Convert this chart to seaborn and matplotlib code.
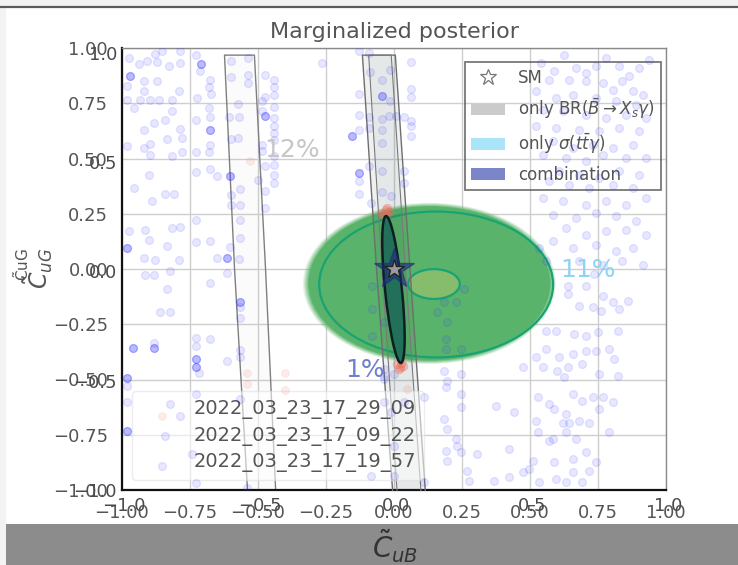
import numpy as np
import matplotlib
matplotlib.use("Agg")
import matplotlib.pyplot as plt
from matplotlib.patches import Ellipse, Patch, Rectangle
from matplotlib.lines import Line2D
from matplotlib.ticker import FuncFormatter, FixedLocator
import seaborn as sns

sns.set_style("white")
plt.rcParams['font.family'] = ['DejaVu Sans']
plt.rcParams['mathtext.fontset'] = 'dejavusans'

# ---- scan samples (C_uB, C_uG) ----
upper_left_x = [-0.975, -0.939, -0.908, -0.877, -0.853, -0.786, -0.871, -0.828, -0.786, -0.92, -0.871, -0.982,
                -0.92, -0.792, -0.982, -0.933, -0.896, -0.865, -0.816, -0.957, -0.816, -0.841, -0.884, -0.786,
                -0.92, -0.982, -0.92, -0.896, -0.835, -0.779, -0.816, -0.896, -0.779, -0.902, -0.957, -0.841,
                -0.81, -0.89, -0.975, -0.914, -0.816, -0.786, -0.902, -0.835, -0.92, -0.877, -0.792]
upper_left_y = [0.955, 0.928, 0.94, 0.973, 0.988, 0.988, 0.937, 0.917, 0.932, 0.852, 0.849, 0.827,
                0.807, 0.804, 0.763, 0.766, 0.763, 0.763, 0.763, 0.728, 0.716, 0.676, 0.661, 0.633,
                0.63, 0.558, 0.548, 0.566, 0.59, 0.593, 0.51, 0.517, 0.529, 0.424, 0.367, 0.341,
                0.341, 0.306, 0.17, 0.178, 0.186, 0.19, 0.13, 0.103, 0.05, 0.039, 0.039]

columns_x = [-0.728, -0.712, -0.675, -0.679, -0.673, -0.724, -0.679, -0.728, -0.675, -0.675, -0.728, -0.679,
             -0.675, -0.728, -0.651, -0.728, -0.728, -0.675, -0.651,
             -0.598, -0.537, -0.598, -0.537, -0.574, -0.537, -0.608, -0.571, -0.598, -0.574, -0.565, -0.598,
             -0.598, -0.565, -0.565, -0.565, -0.571, -0.602,
             -0.473, -0.442, -0.442, -0.442, -0.473, -0.485, -0.442, -0.442, -0.485, -0.442, -0.442, -0.442,
             -0.485, -0.485, -0.442, -0.473, -0.442, -0.442, -0.5, -0.442, -0.473, -0.473]
columns_y = [0.97, 0.894, 0.854, 0.822, 0.792, 0.774, 0.728, 0.676, 0.686, 0.563, 0.529, 0.529,
             0.454, 0.437, 0.422, 0.22, 0.121, 0.128, 0.05,
             0.943, 0.955, 0.867, 0.879, 0.747, 0.842, 0.686, 0.686, 0.588, 0.591, 0.363, 0.336,
             0.291, 0.291, 0.22, 0.14, 0.045, 0.098,
             0.879, 0.854, 0.822, 0.789, 0.777, 0.759, 0.732, 0.683, 0.716, 0.649, 0.615, 0.585,
             0.563, 0.532, 0.51, 0.465, 0.472, 0.427, 0.404, 0.389, 0.351, 0.276]

upper_mid_x = [-0.264, -0.092, -0.129, -0.09, -0.043, -0.015, 0.061, -0.129, -0.015, 0.061, 0.061, -0.129,
               -0.092, -0.043, -0.018, 0.006, 0.037, 0.061, 0.061, -0.092, -0.129, -0.043, 0.061, -0.043,
               -0.092, -0.129, -0.043, 0.037, -0.129, -0.043, -0.012, 0.037, -0.086]
upper_mid_y = [0.932, 0.977, 0.985, 0.891, 0.857, 0.902, 0.935, 0.792, 0.762, 0.814, 0.778, 0.698,
               0.686, 0.679, 0.691, 0.691, 0.686, 0.668, 0.646, 0.638, 0.63, 0.63, 0.6, 0.57,
               0.465, 0.397, 0.442, 0.442, 0.339, 0.347, 0.332, 0.389, 0.299]

upper_right_x = [0.540, 0.589, 0.626, 0.669, 0.706, 0.742, 0.779, 0.828, 0.865, 0.902, 0.938,
                 0.840, 0.804, 0.877, 0.914, 0.767, 0.706, 0.644, 0.571,
                 0.522, 0.595, 0.657, 0.742, 0.816, 0.889, 0.546, 0.620, 0.706, 0.779, 0.853, 0.926,
                 0.522, 0.595, 0.681, 0.755, 0.828, 0.902, 0.583, 0.657, 0.730, 0.804, 0.877,
                 0.546, 0.632, 0.706, 0.767, 0.853, 0.926, 0.608, 0.681, 0.755, 0.828, 0.902,
                 0.571, 0.644, 0.718, 0.804, 0.877, 0.546, 0.620, 0.706, 0.779, 0.853, 0.926,
                 0.583, 0.669, 0.742, 0.816, 0.889, 0.632, 0.706, 0.779, 0.853, 0.926,
                 0.583, 0.657, 0.742, 0.816, 0.877, 0.681, 0.767, 0.840, 0.914, 0.534, 0.559]
upper_right_y = [0.932, 0.894, 0.970, 0.910, 0.887, 0.917, 0.955, 0.917, 0.872, 0.910, 0.947,
                 0.849, 0.811, 0.804, 0.789, 0.842, 0.849, 0.857, 0.857,
                 0.804, 0.774, 0.789, 0.774, 0.759, 0.744, 0.721, 0.713, 0.698, 0.683, 0.698, 0.683,
                 0.646, 0.638, 0.630, 0.623, 0.638, 0.623, 0.578, 0.548, 0.563, 0.548, 0.563,
                 0.517, 0.502, 0.487, 0.517, 0.502, 0.502, 0.442, 0.427, 0.412, 0.442, 0.427,
                 0.397, 0.382, 0.367, 0.382, 0.367, 0.321, 0.306, 0.291, 0.306, 0.291, 0.321,
                 0.246, 0.231, 0.253, 0.238, 0.216, 0.186, 0.155, 0.170, 0.178, 0.155,
                 0.125, 0.095, 0.110, 0.080, 0.095, 0.035, 0.020, 0.035, 0.020, 0.095, 0.035]

lower_left_x = [-0.914, -0.884, -0.822, -0.614, -0.675, -0.835, -0.859, -0.822, -0.565, -0.565, -0.884, -0.675,
                -0.728, -0.728, -0.716, -0.614, -0.565, -0.565, -0.982, -0.982, -0.728, -0.565, -0.822, -0.786,
                -0.841, -0.853, -0.743, -0.728, -0.54]
lower_left_y = [-0.027, -0.027, -0.008, -0.02, -0.065, -0.09, -0.193, -0.193, -0.173, -0.223, -0.335, -0.317,
                -0.314, -0.347, -0.471, -0.415, -0.367, -0.4, -0.528, -0.6, -0.566, -0.588, -0.611, -0.664,
                -0.754, -0.89, -0.837, -0.97, -0.99]

lower_mid_x = [-0.037, -0.037, 0.0, -0.037, 0.184, 0.196, 0.245, 0.245, 0.19, 0.245, 0.184, 0.196, 0.227, 0.233,
               0.19, 0.245, 0.196, 0.27, 0.276, 0.306, 0.11, 0.037, -0.037, -0.012, 0.0, 0.0, 0.11, -0.086,
               -0.08, -0.08, -0.037, -0.08, 0.184, 0.227, 0.159, 0.196, 0.19, 0.19, 0.245, 0.257]
lower_mid_y = [-0.452, -0.483, -0.475, -0.498, -0.46, -0.505, -0.475, -0.566, -0.535, -0.626, -0.679, -0.724,
               -0.769, -0.799, -0.822, -0.83, -0.867, -0.913, -0.958, -0.837, -0.581, -0.603, -0.603, -0.649,
               -0.799, -0.935, -0.965, -0.935, -0.075, -0.181, -0.241, -0.302, -0.151, -0.151, -0.196, -0.241,
               -0.317, -0.362, -0.362, -0.09]

lower_right_x = [0.736, 0.638, 0.706, 0.767, 0.804, 0.859, 0.681, 0.730, 0.761, 0.828, 0.638,
                 0.559, 0.595, 0.663, 0.706, 0.749, 0.822, 0.522, 0.559, 0.608, 0.657, 0.706, 0.742, 0.791, 0.810,
                 0.473, 0.546, 0.601, 0.638, 0.693, 0.755, 0.822, 0.626,
                 0.375, 0.442, 0.528, 0.571, 0.589, 0.632, 0.657, 0.693, 0.730, 0.767, 0.804,
                 0.522, 0.620, 0.644, 0.681, 0.718, 0.632, 0.528, 0.583, 0.669, 0.755,
                 0.424, 0.571, 0.510, 0.589, 0.657, 0.706, 0.742, 0.473, 0.595, 0.657, 0.718,
                 0.424, 0.369, 0.534, 0.632, 0.693, 0.497, 0.791]
lower_right_y = [-0.023, -0.075, -0.075, -0.121, -0.151, -0.143, -0.166, -0.173, -0.189, -0.181, -0.113,
                 -0.279, -0.279, -0.294, -0.302, -0.287, -0.279, -0.400, -0.362, -0.400, -0.385, -0.370, -0.370,
                 -0.362, -0.407,
                 -0.445, -0.445, -0.460, -0.445, -0.430, -0.475, -0.483, -0.490,
                 -0.618, -0.646, -0.581, -0.611, -0.633, -0.656, -0.566, -0.596, -0.581, -0.581, -0.603,
                 -0.686, -0.698, -0.698, -0.686, -0.698, -0.739, -0.739, -0.769, -0.769, -0.633,
                 -0.814, -0.777, -0.867, -0.872, -0.860, -0.830, -0.875, -0.920, -0.950, -0.920, -0.913,
                 -0.943, -0.958, -0.965, -0.965, -0.965, -0.905, -0.739]

# repeated samples (overlapping, so they look darker)
dense_x = [-0.982, -0.71, -0.675, -0.604, -0.614, -0.473, -0.043, -0.156, -0.129, -0.565, -0.96, -0.884,
           -0.728, -0.728, -0.982, -0.982, -0.969]
dense_y = [0.095, 0.928, 0.63, 0.419, 0.05, 0.691, 0.784, 0.6, 0.434, -0.151, -0.357, -0.357,
           -0.407, -0.442, -0.495, -0.732, 0.872]

# rejected samples near the tips of the combined region
tip_x = [-0.045, -0.03, -0.02, -0.035, -0.025, 0.012, 0.022, 0.032, 0.017, 0.027]
tip_y = [0.255, 0.268, 0.26, 0.245, 0.275, -0.43, -0.445, -0.438, -0.452, -0.425]
reject_x = [-0.54, -0.54, -0.4, -0.4, -0.853, 0.049, -0.53]
reject_y = [-0.471, -0.52, -0.471, -0.546, -0.664, -0.543, 0.49]

# ---- BR(B -> Xs gamma) allowed bands: edges along C_uG ----
band_y = [-1.05, 0.0, 0.97]
br1_left = [-0.538, -0.588, -0.625]
br1_right = [-0.435, -0.474, -0.515]
br2_left = [-0.004, -0.066, -0.118]
br2_right = [0.116, 0.057, 0.003]
br2_inner_left = [0.012, -0.046, -0.095]
br2_inner_right = [0.100, 0.040, -0.012]

# ---- sigma(t tbar gamma) region and combination (centre, width, height, angle) ----
ttg_cloud = (0.13, -0.065, 0.93, 0.73, 0.0)
ttg_outer = (0.155, -0.07, 0.86, 0.66, 0.0)
ttg_inner = (0.147, -0.068, 0.19, 0.135, 0.0)
combined = (-0.002, -0.093, 0.062, 0.667, 4.7)
sm_point = (0.0, 0.0)

level_labels = ["12%", "11%", "1%"]
level_pos = [(-0.375, 0.538), (0.713, -0.005), (-0.107, -0.457)]
level_colors = ["#c6c6c6", "#8fd3f4", "#6f7fcf"]

run_labels = ["2022_03_23_17_29_09", "2022_03_23_17_09_22", "2022_03_23_17_19_57"]

major_ticks = [-1.0, -0.75, -0.5, -0.25, 0.0, 0.25, 0.5, 0.75, 1.0]
coarse_ticks = [-1.0, -0.5, 0.0, 0.5, 1.0]

W, H = 738, 565
fig = plt.figure(figsize=(W / 100, H / 100), dpi=100)
fig.patch.set_facecolor("white")

# frame decorations of the page
fig.patches.append(Rectangle((0, 558 / H), 1, 7 / H, transform=fig.transFigure,
                             facecolor="#f1f1f1", edgecolor="none", zorder=0))
fig.patches.append(Rectangle((0, 0), 6 / W, 558 / H, transform=fig.transFigure,
                             facecolor="#f3f3f3", edgecolor="none", zorder=0))
fig.patches.append(Rectangle((6 / W, 0), 1, 41 / H, transform=fig.transFigure,
                             facecolor="#8c8c8c", edgecolor="none", zorder=0))
fig.lines.append(Line2D([0, 1], [558.5 / H, 558.5 / H], transform=fig.transFigure,
                        color="#5a5a5a", lw=1.6))

ax = fig.add_axes([122 / W, 75 / H, 544 / W, 442 / H])
ax.set_xlim(-1, 1)
ax.set_ylim(-1, 1)
ax.grid(True, color="#cfcfcf", lw=1.0, zorder=0)
ax.set_axisbelow(True)

minus = lambda fmt: FuncFormatter(lambda v, p: (fmt % v).replace("-", "\u2212"))
ax.xaxis.set_major_locator(FixedLocator(major_ticks))
ax.yaxis.set_major_locator(FixedLocator(major_ticks))
ax.xaxis.set_major_formatter(minus("%.2f"))
ax.yaxis.set_major_formatter(minus("%.2f"))
ax.tick_params(axis="both", labelsize=13, labelcolor="#555555", color="#444444",
               length=5, width=1, pad=5, direction="out")
for side in ("top", "right"):
    ax.spines[side].set_color("#8a8a8a")
    ax.spines[side].set_linewidth(1.0)
for side in ("left", "bottom"):
    ax.spines[side].set_color("#111111")
    ax.spines[side].set_linewidth(1.6)

# BR band away from the SM point
ax.fill_betweenx(band_y, br1_left, br1_right, facecolor=(0.35, 0.35, 0.35, 0.025),
                 edgecolor="#7f7f7f", lw=1.0, zorder=2)

# sigma(ttgamma) posterior cloud with a short soft edge
cx, cy, cw, ch, ca = ttg_cloud
for k, a in zip([1.0, 0.99, 0.98, 0.97, 0.96], [0.15, 0.22, 0.3, 0.4, 0.5]):
    ax.add_patch(Ellipse((cx, cy), cw * k, ch * k, angle=ca, facecolor="#5cb46b",
                         edgecolor="none", alpha=a, zorder=3))
ax.add_patch(Ellipse((cx, cy), cw * 0.955, ch * 0.955, angle=ca, facecolor="#5ab36a",
                     edgecolor="none", zorder=3))
ox, oy, ow, oh, oa = ttg_outer
ax.add_patch(Ellipse((ox, oy), ow, oh, angle=oa, facecolor="none",
                     edgecolor="#17a374", lw=1.6, zorder=4))
ix, iy, iw, ih, ia = ttg_inner
ax.add_patch(Ellipse((ix, iy), iw, ih, angle=ia, facecolor="#86bd6c",
                     edgecolor="#17a374", lw=1.6, zorder=4))

# BR band through the SM point, drawn over the cloud
ax.fill_betweenx(band_y, br2_left, br2_right, facecolor=(0.2, 0.3, 0.3, 0.08),
                 edgecolor="#6e6e6e", lw=1.0, zorder=5)
ax.fill_betweenx(band_y, br2_inner_left, br2_inner_right, facecolor=(0.2, 0.3, 0.3, 0.05),
                 edgecolor="#7a7a7a", lw=0.8, zorder=5)

# scan samples
faint_x = upper_left_x + columns_x + upper_mid_x + upper_right_x + lower_left_x + lower_mid_x + lower_right_x
faint_y = upper_left_y + columns_y + upper_mid_y + upper_right_y + lower_left_y + lower_mid_y + lower_right_y
sns.scatterplot(x=faint_x, y=faint_y, ax=ax, color="#4040ff", edgecolor="#2a2aff",
                s=32, linewidth=0.9, alpha=0.12, zorder=6, legend=False)
sns.scatterplot(x=dense_x, y=dense_y, ax=ax, color="#4040ff", edgecolor="#2a2aff",
                s=32, linewidth=0.9, alpha=0.36, zorder=6, legend=False)
sns.scatterplot(x=reject_x, y=reject_y, ax=ax, color="#f06a5a", edgecolor="#f06a5a",
                s=32, linewidth=0.5, alpha=0.13, zorder=6, legend=False)
sns.scatterplot(x=tip_x, y=tip_y, ax=ax, color="#f06a5a", edgecolor="#f06a5a",
                s=40, linewidth=0.5, alpha=0.35, zorder=6, legend=False)

# combined region
mx, my, mw, mh, ma = combined
ax.add_patch(Ellipse((mx, my), mw, mh, angle=ma, facecolor="#22705a",
                     edgecolor="#0d1f1f", lw=1.8, zorder=7))

# SM point
ax.plot([sm_point[0]], [sm_point[1]], marker="*", markersize=30, color="#1d2a7a",
        alpha=0.6, linestyle="none", zorder=8)
ax.plot([sm_point[0]], [sm_point[1]], marker="*", markersize=15, markerfacecolor="#9a9a9a",
        markeredgecolor="#222222", markeredgewidth=1.0, linestyle="none", zorder=9)

# contour level labels
for lab, (lx, ly), lc in zip(level_labels, level_pos, level_colors):
    ax.text(lx, ly, lab, color=lc, fontsize=18, ha="center", va="center", zorder=9)

ax.set_title("Marginalized posterior", fontsize=16, color="#555555", pad=7)

handles = [
    Line2D([], [], marker="*", markersize=12, markerfacecolor="none",
           markeredgecolor="#777777", markeredgewidth=0.9, linestyle="none"),
    Patch(facecolor="#cbcbcb", edgecolor="none"),
    Patch(facecolor="#a9e4f8", edgecolor="none"),
    Patch(facecolor="#7b85c7", edgecolor="none"),
]
labels = ["SM", r"only BR($\bar{B}\rightarrow X_s\gamma$)", r"only $\sigma(t\bar{t}\gamma)$", "combination"]
leg1 = ax.legend(handles, labels, loc="upper right", bbox_to_anchor=(0.991, 0.968),
                 borderaxespad=0, fontsize=12, labelcolor="#555555", fancybox=False,
                 frameon=True, labelspacing=0.6)
leg1.get_frame().set_facecolor("none")
leg1.get_frame().set_edgecolor("#555555")
leg1.get_frame().set_linewidth(1.3)
ax.add_artist(leg1)

run_handles = [Line2D([], [], linestyle="none") for _ in run_labels]
leg2 = ax.legend(run_handles, run_labels, loc="lower left", fontsize=14,
                 labelcolor="#555555", framealpha=0.55, labelspacing=0.35)
leg2.get_frame().set_edgecolor("#dddddd")

# overlaid coarse axis
ax2 = fig.add_axes([124 / W, 75 / H, 544 / W, 437 / H], facecolor="none")
ax2.set_xlim(-1, 1)
ax2.set_ylim(-1, 1)
for s in ax2.spines.values():
    s.set_visible(False)
ax2.xaxis.set_major_locator(FixedLocator(coarse_ticks))
ax2.yaxis.set_major_locator(FixedLocator(coarse_ticks))
ax2.xaxis.set_major_formatter(minus("%.1f"))
ax2.yaxis.set_major_formatter(minus("%.1f"))
ax2.tick_params(axis="both", labelsize=13, labelcolor="#4a4a4a", color="#333333",
                length=3, width=1, pad=2)

fig.text(395 / W, (H - 546) / H, r"$\tilde{C}_{uB}$", fontsize=20, color="#333333",
         ha="center", va="center")
fig.text(38 / W, (H - 268) / H, r"$\tilde{C}_{uG}$", fontsize=17, color="#555555",
         rotation=90, ha="center", va="center")
fig.text(22 / W, (H - 265) / H, r"$\tilde{\mathrm{C}}\mathrm{uG}$", fontsize=11, color="#555555",
         rotation=90, ha="center", va="center")

fig.savefig("out.png", dpi=100)
